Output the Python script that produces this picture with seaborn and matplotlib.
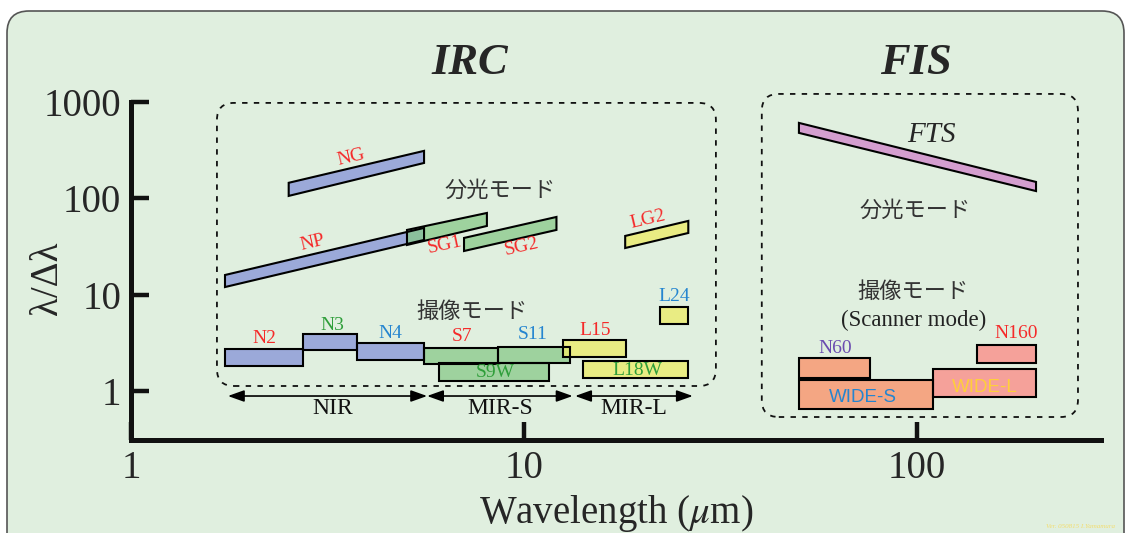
import numpy as np
import pandas as pd
import seaborn as sns
import matplotlib.pyplot as plt
from matplotlib.patches import Polygon, Rectangle, FancyBboxPatch

# imaging filters (rectangles): wavelength range and lambda/dlambda range
img_names = ["N2", "N3", "N4", "S9W", "S7", "S11", "L15", "L18W", "L24",
             "N60", "WIDE-S", "WIDE-L", "N160"]
img_wl_lo = [1.73, 2.74, 3.76, 6.08, 5.57, 8.59, 12.6, 14.1, 22.2, 50.1, 50.1, 110, 142]
img_wl_hi = [2.74, 3.76, 5.57, 11.6, 8.59, 13.1, 18.2, 26.2, 26.2, 75.9, 110, 201, 201]
img_r_lo = [1.82, 2.67, 2.10, 1.27, 1.91, 1.95, 2.25, 1.36, 4.96, 1.36, 0.65, 0.866, 1.95]
img_r_hi = [2.73, 3.91, 3.15, 1.95, 2.80, 2.86, 3.39, 2.05, 7.45, 2.20, 1.30, 1.69, 3.0]
img_group = ["NIR", "NIR", "NIR", "MIRS", "MIRS", "MIRS", "MIRL", "MIRL", "MIRL",
             "FISS", "FISS", "FISL", "FISL"]

# spectroscopy modes (slanted bands)
spec_names = ["NG", "NP", "SG1", "SG2", "LG2", "FTS"]
spec_wl_lo = [2.52, 1.735, 5.04, 7.04, 18.1, 50.1]
spec_wl_hi = [5.57, 5.57, 8.05, 12.1, 26.2, 201]
spec_lo_start = [106, 12.0, 32.8, 28.4, 30.5, 478]
spec_hi_start = [145, 16.0, 47.0, 38.8, 40.7, 607]
spec_lo_end = [233, 37.0, 51.7, 47.0, 43.7, 119]
spec_hi_end = [311, 49.3, 70.5, 64.1, 58.3, 148]
spec_group = ["NIR", "NIR", "MIRS", "MIRS", "MIRL", "FTS"]

# label positions (wavelength, lambda/dlambda) and colours
lab_text = ["N2", "N3", "N4", "S7", "S11", "L15", "S9W", "L18W", "L24",
            "N60", "WIDE-S", "WIDE-L", "N160"]
lab_x = [2.18, 3.25, 4.56, 6.95, 10.5, 15.2, 8.44, 19.4, 24.1, 61.8, 72.9, 149, 179]
lab_y = [3.47, 4.84, 3.91, 3.64, 3.82, 4.20, 1.57, 1.65, 9.46, 2.73, 0.866, 1.10, 3.91]
lab_col = ["red", "green", "blue", "red", "blue", "red", "green", "green", "blue",
           "purple", "blue", "yellow", "red"]

spec_lab_x = [3.63, 2.89, 6.30, 9.89, 20.7]
spec_lab_y = [269, 34.4, 32.8, 31.3, 59.7]

# wavelength ranges of the IRC channels
chan_names = ["NIR", "MIR-S", "MIR-L"]
chan_lo = [1.765, 5.67, 13.5]
chan_hi = [5.67, 13.3, 26.9]

fill = {"NIR": "#9ba9d9", "MIRS": "#85c885", "MIRL": "#ecec6a",
        "FISS": "#f4a683", "FISL": "#f5a19a", "FTS": "#d49ecf"}
alpha = {"NIR": 1.0, "MIRS": 0.72, "MIRL": 0.78, "FISS": 1.0, "FISL": 1.0, "FTS": 1.0}
txt = {"red": "#f52a2a", "green": "#2f9e3a", "blue": "#2585d0",
       "purple": "#6a4bb0", "yellow": "#ffcf3a"}

sns.set_theme(style="ticks")
plt.rcParams["font.family"] = ["Liberation Serif", "Noto Sans CJK JP", "DejaVu Sans"]
plt.rcParams["mathtext.fontset"] = "stix"

fig = plt.figure(figsize=(11.28, 5.33), dpi=100)
fig.patch.set_facecolor("white")
fig.add_artist(FancyBboxPatch((0.07, -0.3), 11.17, 5.52,
                              boxstyle="round,pad=0,rounding_size=0.22",
                              transform=fig.dpi_scale_trans, facecolor="#e0efdf",
                              edgecolor="#555555", lw=1.2, zorder=-10))

ax = fig.add_axes([0.1161, 0.1745, 0.8599, 0.6341])
ax.set_facecolor("none")
ax.set_xscale("log")
ax.set_yscale("log")
ax.set_xlim(1, 294)
ax.set_ylim(0.31, 1000)
sns.despine(ax=ax)
for s in ["left", "bottom"]:
    ax.spines[s].set_linewidth(3.6)
    ax.spines[s].set_color("#111111")
ax.set_xticks([1, 10, 100])
ax.set_xticklabels(["1", "10", "100"])
ax.set_yticks([1, 10, 100, 1000])
ax.set_yticklabels(["1", "10", "100", "1000"])
ax.minorticks_off()
ax.tick_params(direction="in", length=13, width=3.2, labelsize=28, color="#111111")
ax.tick_params(axis="y", pad=7)
ax.tick_params(axis="x", pad=7)
ax.set_xlabel(r"Wavelength ($\mu$m)", fontsize=28, labelpad=4.5)
ax.set_ylabel("λ/Δλ", fontsize=28)
ax.yaxis.set_label_coords(-0.067, 0.48)

# imaging rectangles
for i in range(len(img_names)):
    g = img_group[i]
    ax.add_patch(Rectangle((img_wl_lo[i], img_r_lo[i]), img_wl_hi[i] - img_wl_lo[i],
                           img_r_hi[i] - img_r_lo[i], facecolor=fill[g], alpha=alpha[g],
                           edgecolor="none", zorder=2))
    ax.add_patch(Rectangle((img_wl_lo[i], img_r_lo[i]), img_wl_hi[i] - img_wl_lo[i],
                           img_r_hi[i] - img_r_lo[i], facecolor="none",
                           edgecolor="black", lw=1.5, zorder=3))

# spectroscopy bands
for i in range(len(spec_names)):
    g = spec_group[i]
    verts = [(spec_wl_lo[i], spec_lo_start[i]), (spec_wl_hi[i], spec_lo_end[i]),
             (spec_wl_hi[i], spec_hi_end[i]), (spec_wl_lo[i], spec_hi_start[i])]
    ax.add_patch(Polygon(verts, closed=True, facecolor=fill[g], alpha=alpha[g],
                         edgecolor="none", zorder=2))
    ax.add_patch(Polygon(verts, closed=True, facecolor="none", edgecolor="black",
                         lw=1.5, zorder=3))

# band labels, rotated along each band
for i in range(5):
    p0 = ax.transData.transform((spec_wl_lo[i], spec_hi_start[i]))
    p1 = ax.transData.transform((spec_wl_hi[i], spec_hi_end[i]))
    ang = np.degrees(np.arctan2(p1[1] - p0[1], p1[0] - p0[0]))
    ax.text(spec_lab_x[i], spec_lab_y[i], spec_names[i], color=txt["red"], fontsize=14,
            rotation=ang, ha="center", va="center", rotation_mode="anchor", zorder=5)
ax.text(109, 455, "FTS", fontsize=21, style="italic", ha="center", va="center", zorder=5)

for i in range(len(lab_text)):
    fam = ["Liberation Sans"] if lab_text[i].startswith("WIDE") else ["Liberation Serif"]
    ax.text(lab_x[i], lab_y[i], lab_text[i], color=txt[lab_col[i]], family=fam,
            fontsize=13.5 if fam[0] == "Liberation Sans" else 14,
            ha="center", va="center", zorder=5)

# mode captions
cap = "#333333"
ax.text(8.69, 122, "分光モード", fontsize=16, color=cap, ha="center", va="center",
        family=["Noto Sans CJK JP"])
ax.text(7.37, 6.77, "撮像モード", fontsize=16, color=cap, ha="center", va="center",
        family=["Noto Sans CJK JP"])
ax.text(98.9, 75.8, "分光モード", fontsize=16, color=cap, ha="center", va="center",
        family=["Noto Sans CJK JP"])
ax.text(97.7, 10.7, "撮像モード", fontsize=16, color=cap, ha="center", va="center",
        family=["Noto Sans CJK JP"])
ax.text(98.2, 5.46, "(Scanner mode)", fontsize=16.5, color="#222222", ha="center",
        va="center")

# channel arrows
for i in range(3):
    ax.annotate("", xy=(chan_hi[i], 0.887), xytext=(chan_lo[i], 0.887),
                arrowprops=dict(arrowstyle="<|-|>,head_length=0.7,head_width=0.25",
                                lw=1.2, color="black", shrinkA=0, shrinkB=0,
                                mutation_scale=14))
    ax.text(np.sqrt(chan_lo[i] * chan_hi[i]) * (1.03 if i == 0 else 1.0), 0.666,
            chan_names[i], fontsize=17, ha="center", va="center", color="#111111")

# dashed instrument boxes
box_wl = [(1.655, 30.8), (40.3, 257)]
box_r = [(1.127, 979), (0.537, 1213)]
inv = fig.dpi_scale_trans.inverted()
for (w0, w1), (r0, r1) in zip(box_wl, box_r):
    a = inv.transform(ax.transData.transform((w0, r0)))
    b = inv.transform(ax.transData.transform((w1, r1)))
    fig.add_artist(FancyBboxPatch((a[0], a[1]), b[0] - a[0], b[1] - a[1],
                                  boxstyle="round,pad=0,rounding_size=0.17",
                                  transform=fig.dpi_scale_trans, facecolor="none",
                                  edgecolor="#111111", lw=1.3, ls=(0, (3, 3.5)), zorder=1))

fig.text(470 / 1128, 1 - 63 / 533, "IRC", fontsize=32, weight="bold", style="italic",
         ha="center", va="center")
fig.text(916 / 1128, 1 - 63 / 533, "FIS", fontsize=32, weight="bold", style="italic",
         ha="center", va="center")
fig.text(1080 / 1128, 1 - 527 / 533, "Ver. 050815 I.Yamamura", fontsize=5,
         style="italic", color="#f2dd70", ha="center", va="center")

fig.savefig("out.png", dpi=100)
